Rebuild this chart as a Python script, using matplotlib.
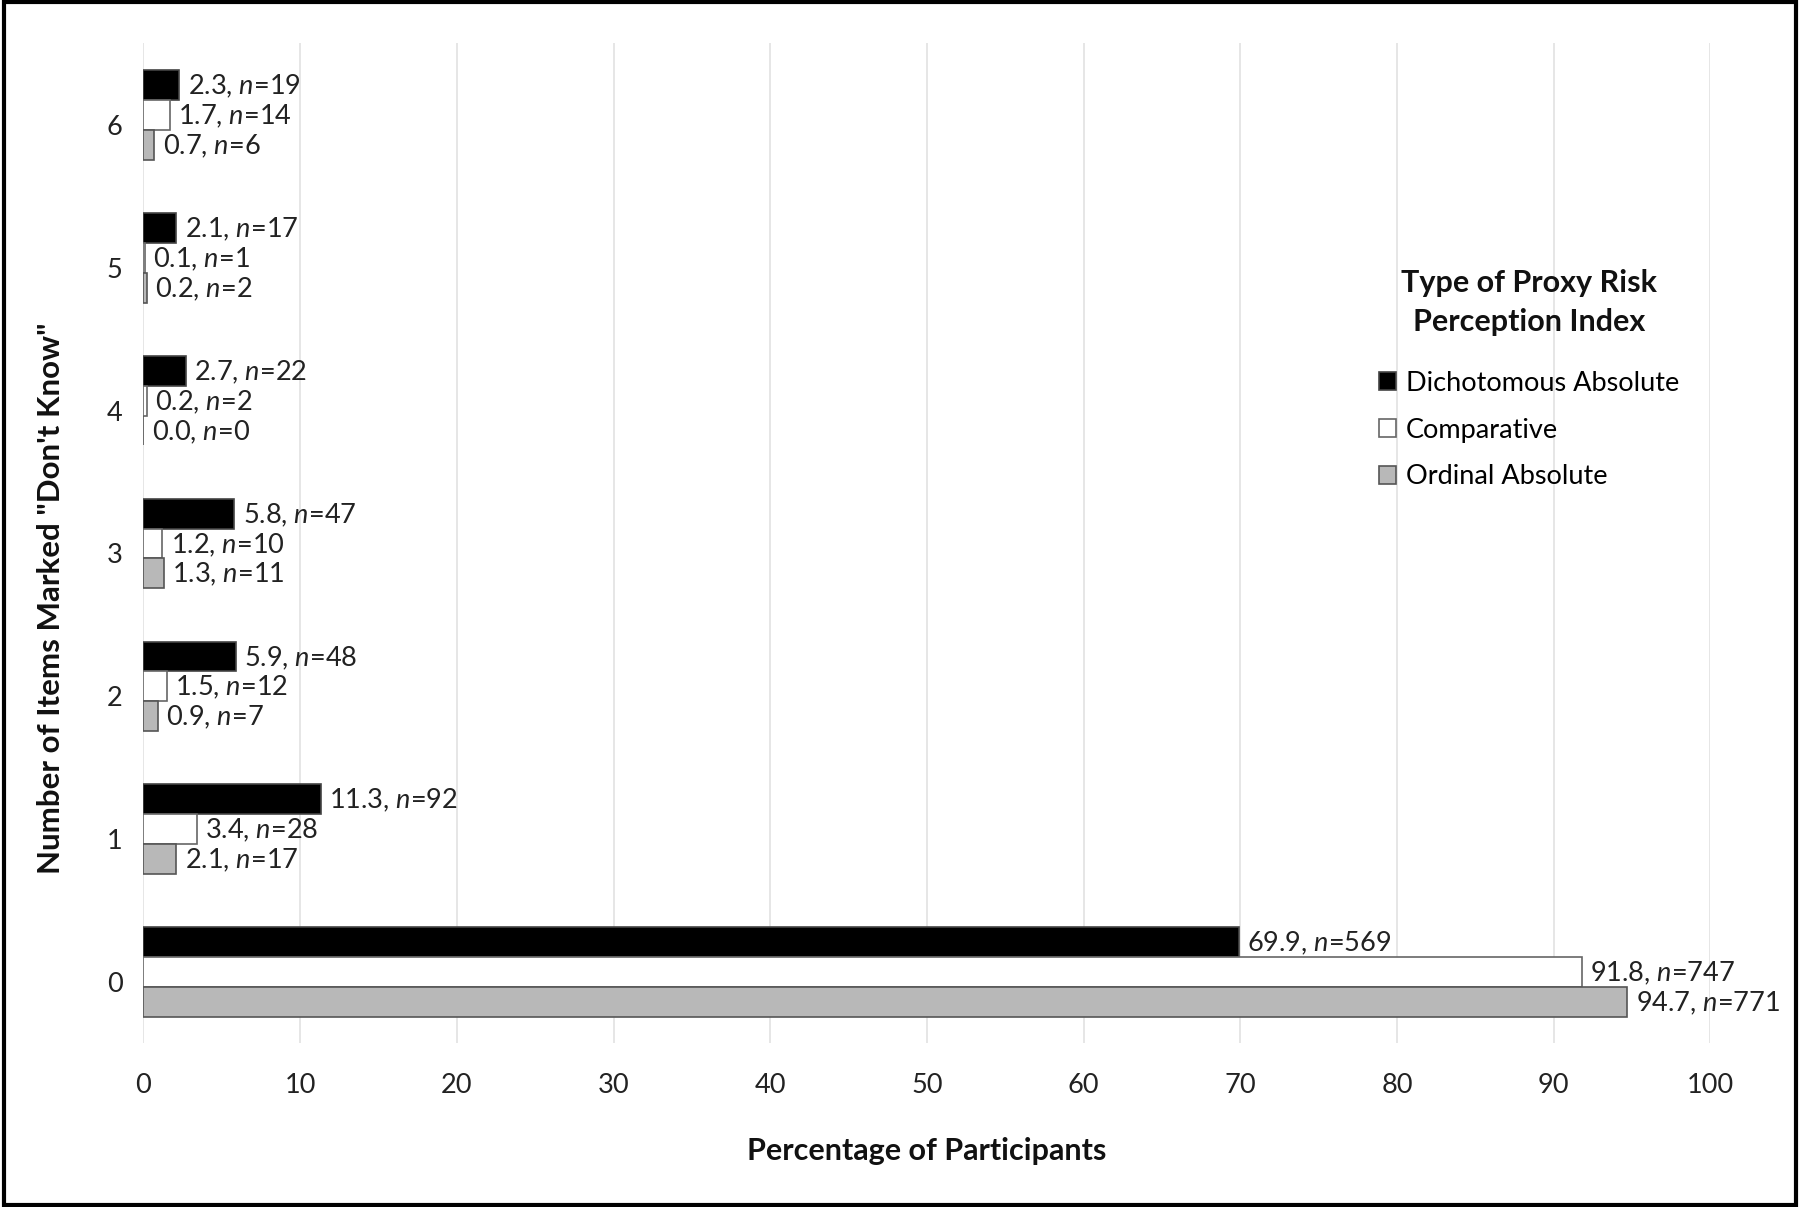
import numpy as np
import matplotlib.pyplot as plt
import matplotlib.transforms as mtransforms
from matplotlib.patches import Rectangle

plt.rcParams['font.family'] = ['Lato', 'DejaVu Sans']
plt.rcParams['mathtext.fontset'] = 'custom'
plt.rcParams['mathtext.rm'] = 'Lato'
plt.rcParams['mathtext.it'] = 'Lato:italic'

# Number of "Don't know" items
categories = [0, 1, 2, 3, 4, 5, 6]

dich_pct = [69.9, 11.3, 5.9, 5.8, 2.7, 2.1, 2.3]
dich_n = [569, 92, 48, 47, 22, 17, 19]
comp_pct = [91.8, 3.4, 1.5, 1.2, 0.2, 0.1, 1.7]
comp_n = [747, 28, 12, 10, 2, 1, 14]
ord_pct = [94.7, 2.1, 0.9, 1.3, 0.0, 0.2, 0.7]
ord_n = [771, 17, 7, 11, 0, 2, 6]

series = [
    ('Dichotomous Absolute', dich_pct, dich_n, 'black', '#444444'),
    ('Comparative', comp_pct, comp_n, 'white', '#666666'),
    ('Ordinal Absolute', ord_pct, ord_n, '#b8b8b8', '#555555'),
]

fig = plt.figure(figsize=(18, 12.07), dpi=100)
ax = fig.add_axes([0.0797, 0.1355, 0.8705, 0.8285])

y = np.arange(len(categories))
h = 0.209
offsets = [h, 0, -h]

for (name, pct, n, fc, ec), off in zip(series, offsets):
    bars = ax.barh(y + off, pct, height=h, color=fc, edgecolor=ec,
                   linewidth=1.2, label=name, zorder=3)
    for b, v, cnt in zip(bars, pct, n):
        ax.annotate(f'{v:.1f}, $n$={cnt}',
                    xy=(b.get_width(), b.get_y() + b.get_height() / 2),
                    xytext=(6, -1), textcoords='offset points',
                    ha='left', va='center', fontsize=19.5, color='#222222',
                    zorder=4)

ax.set_xlim(0, 100)
ax.set_ylim(-0.5, 6.5)
ax.set_xticks(np.arange(0, 101, 10))
ax.set_yticks(y)
ax.set_yticklabels([str(c) for c in categories])
ax.tick_params(axis='both', length=0, labelsize=19.5, colors='#222222')
ax.tick_params(axis='x', pad=21)
ax.tick_params(axis='y', pad=15)
# category labels sit a little below the group centre
shift = mtransforms.ScaledTranslation(0, -0.10, fig.dpi_scale_trans)
for lbl in ax.get_yticklabels():
    lbl.set_transform(lbl.get_transform() + shift)
ax.grid(True, axis='x', color='#e2e2e2', linewidth=1.2, zorder=0)
for s in ax.spines.values():
    s.set_visible(False)

ax.set_xlabel('Percentage of Participants', fontsize=22, fontweight='bold',
              labelpad=28, color='#111111')
ax.set_ylabel('Number of Items Marked "Don\'t Know"', fontsize=22.5,
              fontweight='bold', color='#111111')
ax.yaxis.set_label_coords(-0.0498, 0.445)

fig.text(0.8494, 0.7494, 'Type of Proxy Risk\nPerception Index',
         ha='center', va='center', fontsize=22, fontweight='bold',
         linespacing=1.5, color='#111111')

leg = ax.legend(loc='center', bbox_to_anchor=(0.8494, 0.6437),
                bbox_transform=fig.transFigure, frameon=False,
                fontsize=19.5, handlelength=0.65, handleheight=0.65,
                handletextpad=0.35, labelspacing=0.8)

# outer frame
fig.patches.append(Rectangle((0.002, 0.002), 0.996, 0.996,
                             transform=fig.transFigure, fill=False,
                             edgecolor='black', linewidth=3))

fig.savefig('out.png', dpi=100)
